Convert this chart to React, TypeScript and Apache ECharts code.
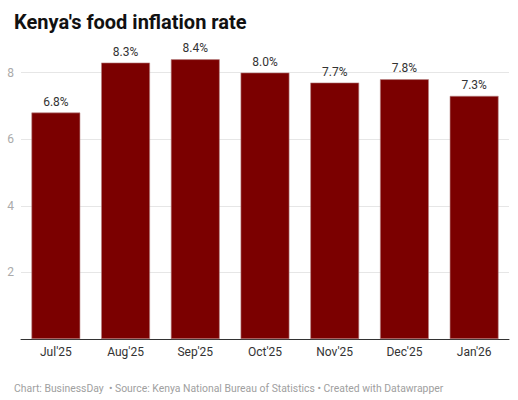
import React, { useEffect, useRef } from "react";
import * as echarts from "echarts";

const categories = ["Jul'25", "Aug'25", "Sep'25", "Oct'25", "Nov'25", "Dec'25", "Jan'26"];
const inflation = [6.8, 8.3, 8.4, 8.0, 7.7, 7.8, 7.3];
const yTicks = [0, 2, 4, 6, 8, 10];

const TITLE = "Kenya's food inflation rate";
const FOOTER =
  "Chart: BusinessDay  \u2022 Source: Kenya National Bureau of Statistics \u2022 Created with Datawrapper";

export default function App() {
  const ref = useRef<HTMLDivElement>(null);
  useEffect(() => {
    if (!ref.current) return;
    const chart = echarts.init(ref.current, null, { renderer: "svg" });
    const font = "Roboto, 'Noto Sans', sans-serif";
    chart.setOption({
      animation: false,
      backgroundColor: "#ffffff",
      textStyle: { fontFamily: font },
      title: [
        {
          text: TITLE,
          left: 9,
          top: 7,
          textStyle: { fontSize: 20, fontWeight: "bold", color: "#111", fontFamily: font },
        },
        {
          text: FOOTER,
          left: 9,
          top: 378,
          textStyle: { fontSize: 10.4, fontWeight: "normal", color: "#a0a0a0", fontFamily: font },
        },
      ],
      grid: { left: 21, right: 9, top: 6, bottom: 61, containLabel: false },
      xAxis: {
        type: "category",
        data: categories,
        axisLine: { show: true, lineStyle: { color: "#333", width: 1 } },
        axisTick: { show: false },
        axisLabel: { color: "#333", fontSize: 12, margin: 7, fontFamily: font },
      },
      yAxis: {
        type: "value",
        min: yTicks[0],
        max: yTicks[yTicks.length - 1],
        interval: 2,
        axisLine: { show: false },
        axisTick: { show: false },
        axisLabel: {
          color: "#aaaaaa",
          fontSize: 12,
          margin: 7,
          showMinLabel: false,
          showMaxLabel: false,
          fontFamily: font,
        },
        splitLine: {
          show: true,
          showMinLine: false,
          showMaxLine: false,
          lineStyle: { color: "#e6e6e6", width: 1 },
        },
      },
      series: [
        {
          type: "bar",
          data: inflation,
          barCategoryGap: "30%",
          itemStyle: { color: "#7b0000", borderColor: "#b98585", borderWidth: 0.6 },
          label: {
            show: true,
            position: "top",
            distance: 5,
            color: "#333",
            fontSize: 12,
            fontFamily: font,
            formatter: (p: any) => Number(p.value).toFixed(1) + "%",
          },
        },
      ],
    });
    return () => chart.dispose();
  }, []);
  return (
    <div
      ref={ref}
      style={{ position: "fixed", left: 0, top: 0, width: 518, height: 400 }}
    />
  );
}
